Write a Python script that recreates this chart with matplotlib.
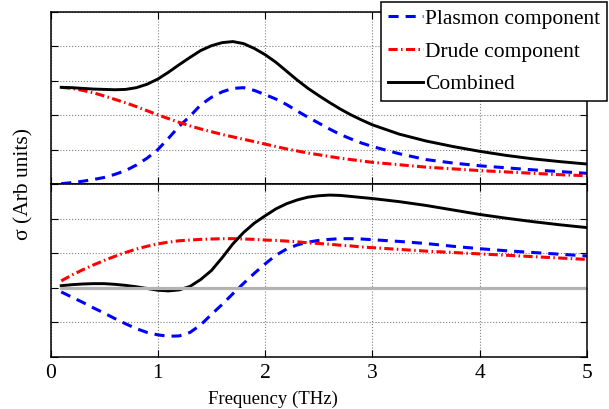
import matplotlib
matplotlib.use("Agg")
import matplotlib.pyplot as plt

# frequency grid (THz) the curves were read at
freq = [0.1, 0.2, 0.3, 0.4, 0.5, 0.6, 0.7, 0.8, 0.9, 1.0,
        1.1, 1.2, 1.3, 1.4, 1.5, 1.6, 1.7, 1.8, 1.9, 2.0,
        2.1, 2.2, 2.3, 2.4, 2.5, 2.6, 2.7, 2.8, 2.9, 3.0,
        3.25, 3.5, 3.75, 4.0, 4.25, 4.5, 4.75, 5.0]

# upper panel (real part)
plasmon_re = [0.01, 0.04, 0.08, 0.13, 0.19, 0.28, 0.39, 0.55, 0.75, 1.00,
              1.33, 1.68, 1.97, 2.30, 2.52, 2.68, 2.78, 2.80, 2.72, 2.60,
              2.47, 2.31, 2.12, 1.94, 1.77, 1.60, 1.44, 1.31, 1.19, 1.09,
              0.88, 0.71, 0.61, 0.53, 0.47, 0.41, 0.36, 0.31]
drude_re = [2.81, 2.78, 2.72, 2.65, 2.56, 2.46, 2.36, 2.25, 2.13, 2.01,
            1.90, 1.79, 1.69, 1.60, 1.52, 1.44, 1.37, 1.30, 1.23, 1.16,
            1.09, 1.02, 0.96, 0.90, 0.85, 0.80, 0.75, 0.71, 0.67, 0.63,
            0.56, 0.49, 0.44, 0.39, 0.35, 0.31, 0.27, 0.24]
combined_re = [2.81, 2.80, 2.78, 2.76, 2.75, 2.74, 2.75, 2.80, 2.90, 3.05,
               3.25, 3.47, 3.68, 3.88, 4.02, 4.11, 4.14, 4.08, 3.94, 3.76,
               3.54, 3.28, 3.02, 2.78, 2.57, 2.37, 2.18, 2.01, 1.86, 1.72,
               1.45, 1.25, 1.09, 0.95, 0.83, 0.73, 0.65, 0.58]

# lower panel (imaginary part)
plasmon_im = [-0.12, -0.27, -0.42, -0.58, -0.73, -0.89, -1.04, -1.18, -1.29, -1.36,
              -1.40, -1.39, -1.29, -1.07, -0.77, -0.48, -0.17, 0.13, 0.42, 0.69,
              0.94, 1.12, 1.24, 1.32, 1.37, 1.40, 1.42, 1.42, 1.41, 1.39,
              1.34, 1.28, 1.20, 1.13, 1.07, 1.02, 0.97, 0.92]
drude_im = [0.20, 0.37, 0.52, 0.66, 0.79, 0.91, 1.02, 1.12, 1.20, 1.27,
            1.32, 1.36, 1.38, 1.40, 1.41, 1.42, 1.42, 1.41, 1.40, 1.38,
            1.37, 1.35, 1.33, 1.30, 1.28, 1.26, 1.23, 1.21, 1.18, 1.16,
            1.11, 1.06, 1.02, 0.98, 0.94, 0.90, 0.86, 0.82]
combined_im = [0.06, 0.09, 0.11, 0.12, 0.12, 0.10, 0.07, 0.03, -0.02, -0.07,
               -0.09, -0.06, 0.04, 0.24, 0.50, 0.87, 1.27, 1.60, 1.87, 2.08,
               2.28, 2.43, 2.54, 2.62, 2.66, 2.68, 2.67, 2.64, 2.61, 2.58,
               2.49, 2.38, 2.25, 2.12, 2.01, 1.91, 1.82, 1.74]

labels = ["Plasmon component", "Drude component", "Combined"]
xticks = [0, 1, 2, 3, 4, 5]

plt.rcParams["font.family"] = ["Liberation Serif", "DejaVu Serif"]

fig = plt.figure(figsize=(6.09, 4.09), dpi=100)
left, width = 50.5 / 609, 536.5 / 609
ax1 = fig.add_axes([left, 1 - 184 / 409, width, 172 / 409])
ax2 = fig.add_axes([left, 1 - 357 / 409, width, 173 / 409])

blue_ls = (0, (3.3, 2.3))
red_ls = (0, (3.0, 1.1, 0.5, 1.1))

for ax, p, d, c in [(ax1, plasmon_re, drude_re, combined_re),
                    (ax2, plasmon_im, drude_im, combined_im)]:
    ax.plot(freq, p, color="blue", lw=2.2, ls=blue_ls, label=labels[0])
    ax.plot(freq, d, color="red", lw=2.2, ls=red_ls, label=labels[1])
    ax.plot(freq, c, color="black", lw=2.1, label=labels[2])

# zero reference in the lower panel
ax2.plot([freq[0], freq[-1]], [0, 0], color="#b3b3b3", lw=2.3)

ax1.set_ylim(0, 5)
ax2.set_ylim(-2, 3)
for ax in (ax1, ax2):
    ax.set_xlim(0, 5)
    ax.set_xticks(xticks)
    lo, hi = ax.get_ylim()
    ax.set_yticks(range(int(lo), int(hi) + 1))
    ax.set_yticklabels([])
    ax.grid(True, ls=":", color="#808080", lw=0.8)
    ax.tick_params(direction="in", length=5, width=0.8, top=True, right=True,
                   labelsize=15.5, pad=5)
    for s in ax.spines.values():
        s.set_linewidth(1.1)
ax1.set_xticklabels([])

ax2.set_xlabel("Frequency (THz)", fontsize=13.5)
ax2.xaxis.set_label_coords(0.414, -0.245)
ax2.xaxis.label.set_va("center")

fig.text(0.0386, 1 - 184 / 409, "σ (Arb units)", rotation=90, fontsize=15.5,
         ha="center", va="center")

h, l = ax1.get_legend_handles_labels()
leg = fig.legend(h, l, loc="upper right", bbox_to_anchor=(0.997, 0.995),
                 fontsize=15.5, frameon=True, fancybox=False, framealpha=1,
                 edgecolor="black", handlelength=1.6, handletextpad=0.12,
                 labelspacing=0.58, borderpad=0.32, borderaxespad=0)
leg.get_frame().set_linewidth(1.1)

fig.savefig("out.png", dpi=100)
